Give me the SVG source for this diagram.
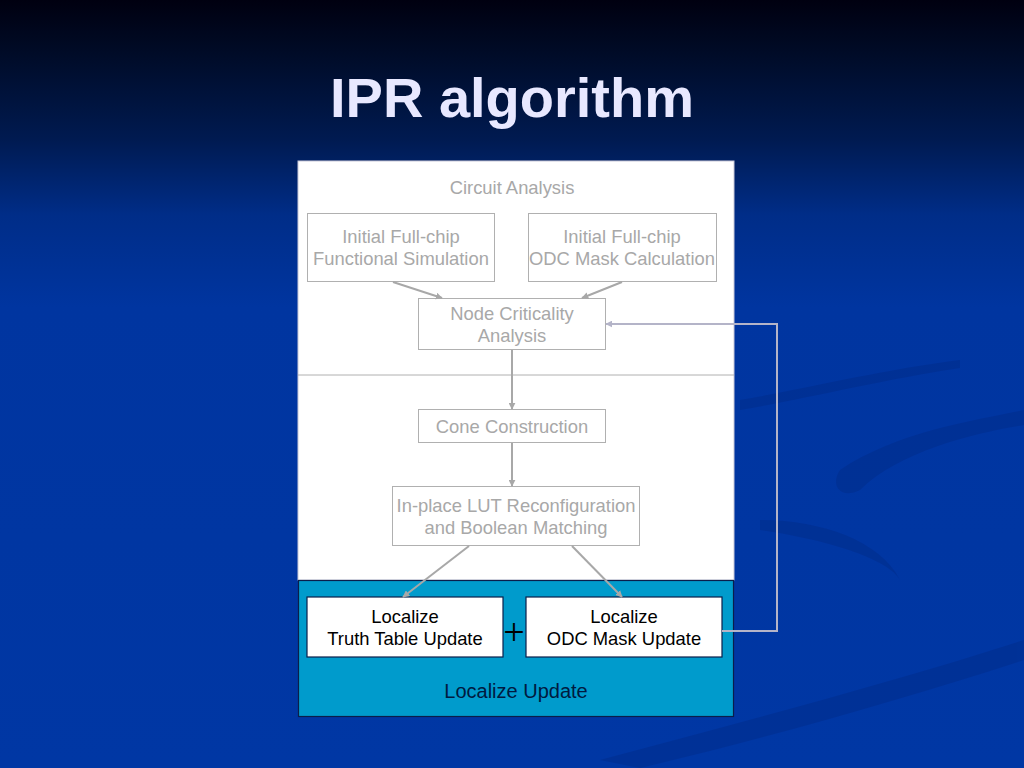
<svg xmlns="http://www.w3.org/2000/svg" width="1024" height="768" viewBox="0 0 1024 768">
<defs>
<linearGradient id="bg" x1="0" y1="0" x2="0" y2="1">
<stop offset="0" stop-color="#000010"/>
<stop offset="0.06" stop-color="#000a24"/>
<stop offset="0.18" stop-color="#001a50"/>
<stop offset="0.28" stop-color="#002d88"/>
<stop offset="0.4" stop-color="#0035a0"/>
<stop offset="1" stop-color="#0037a4"/>
</linearGradient>
<marker id="ah" viewBox="0 0 10 10" refX="9" refY="5" markerWidth="7" markerHeight="7" orient="auto" markerUnits="userSpaceOnUse">
<path d="M0,0 L10,5 L0,10 z" fill="#a8a8a8"/>
</marker>
<marker id="ahl" viewBox="0 0 10 10" refX="9" refY="5" markerWidth="7" markerHeight="7" orient="auto" markerUnits="userSpaceOnUse">
<path d="M0,0 L10,5 L0,10 z" fill="#b4b4c8"/>
</marker>
</defs>
<style>
.gt{font-family:"Liberation Sans",Arial,sans-serif;font-size:18.4px;fill:#a8a8a8;text-anchor:middle}
.bt{font-family:"Liberation Sans",Arial,sans-serif;font-size:18.4px;fill:#000000;text-anchor:middle}
.gb{fill:#ffffff;stroke:#b0b0b0;stroke-width:1}
.wb{fill:#ffffff;stroke:#0a1e4a;stroke-width:1.2}
.cn{stroke:#a8a8a8;stroke-width:2;fill:none}
</style>
<rect x="0" y="0" width="1024" height="768" fill="url(#bg)"/>
<g id="swooshes" fill="#002a84" opacity="0.4">
<path d="M840,470 C900,430 980,420 1024,410 L1024,425 C980,432 900,450 860,490 C840,500 830,485 840,470 z"/>
<path d="M740,400 C800,390 880,370 960,360 L960,368 C880,380 800,400 740,410 z"/>
<path d="M760,520 C820,520 880,540 900,580 C890,560 830,540 760,530 z"/>
<path d="M600,760 C750,720 900,680 1024,640 L1024,660 C900,700 760,740 640,768 z"/>
</g>
<text x="512" y="117" font-family="Liberation Sans,Arial,sans-serif" font-size="56" font-weight="bold" fill="#e8e8ff" text-anchor="middle">IPR algorithm</text>
<g id="panel">
<rect x="298" y="161" width="436" height="419" fill="#ffffff" stroke="#c8c8d8" stroke-width="1"/>
<line x1="298" y1="375" x2="734" y2="375" stroke="#b0b0b0" stroke-width="1"/>
<text class="gt" x="512" y="194">Circuit Analysis</text>
</g>
<g id="localize-update">
<rect x="298.5" y="580.5" width="435" height="136" fill="#009bcc" stroke="#0a1e4a" stroke-width="1.2"/>
<text x="516" y="698" font-family="Liberation Sans,Arial,sans-serif" font-size="20" fill="#001a40" text-anchor="middle">Localize Update</text>
</g>
<g id="sim">
<rect class="gb" x="307.5" y="213.5" width="187" height="68"/>
<text class="gt" x="401" y="243">Initial Full-chip</text>
<text class="gt" x="401" y="265">Functional Simulation</text>
</g>
<g id="odc">
<rect class="gb" x="528.5" y="213.5" width="188" height="68"/>
<text class="gt" x="622" y="243">Initial Full-chip</text>
<text class="gt" x="622" y="265">ODC Mask Calculation</text>
</g>
<g id="nca">
<rect class="gb" x="418.5" y="298.5" width="187" height="51"/>
<text class="gt" x="512" y="320">Node Criticality</text>
<text class="gt" x="512" y="342">Analysis</text>
</g>
<g id="cone">
<rect class="gb" x="418.5" y="409.5" width="187" height="33"/>
<text class="gt" x="512" y="433">Cone Construction</text>
</g>
<g id="lut">
<rect class="gb" x="392.5" y="486.5" width="247" height="59"/>
<text class="gt" x="516" y="512">In-place LUT Reconfiguration</text>
<text class="gt" x="516" y="534">and Boolean Matching</text>
</g>
<g id="tt">
<rect class="wb" x="307" y="597" width="196" height="60"/>
<text class="bt" x="405" y="623">Localize</text>
<text class="bt" x="405" y="645">Truth Table Update</text>
</g>
<g id="plus">
<text x="514" y="645" font-family="Liberation Serif,serif" font-size="38" fill="#000000" text-anchor="middle">+</text>
</g>
<g id="odcu">
<rect class="wb" x="526" y="597" width="196" height="60"/>
<text class="bt" x="624" y="623">Localize</text>
<text class="bt" x="624" y="645">ODC Mask Update</text>
</g>
<g id="connectors">
<line class="cn" x1="393" y1="282" x2="442" y2="298" marker-end="url(#ah)"/>
<line class="cn" x1="622" y1="282" x2="582" y2="298" marker-end="url(#ah)"/>
<line class="cn" x1="512" y1="350" x2="512" y2="409" marker-end="url(#ah)"/>
<line class="cn" x1="512" y1="443" x2="512" y2="486" marker-end="url(#ah)"/>
<line class="cn" x1="469" y1="546" x2="403" y2="597" marker-end="url(#ah)"/>
<line class="cn" x1="572" y1="546" x2="622" y2="597" marker-end="url(#ah)"/>
<polyline points="722,631 777,631 777,324 606,324" fill="none" stroke="#b4b4c8" stroke-width="2" marker-end="url(#ahl)"/>
</g>
</svg>
